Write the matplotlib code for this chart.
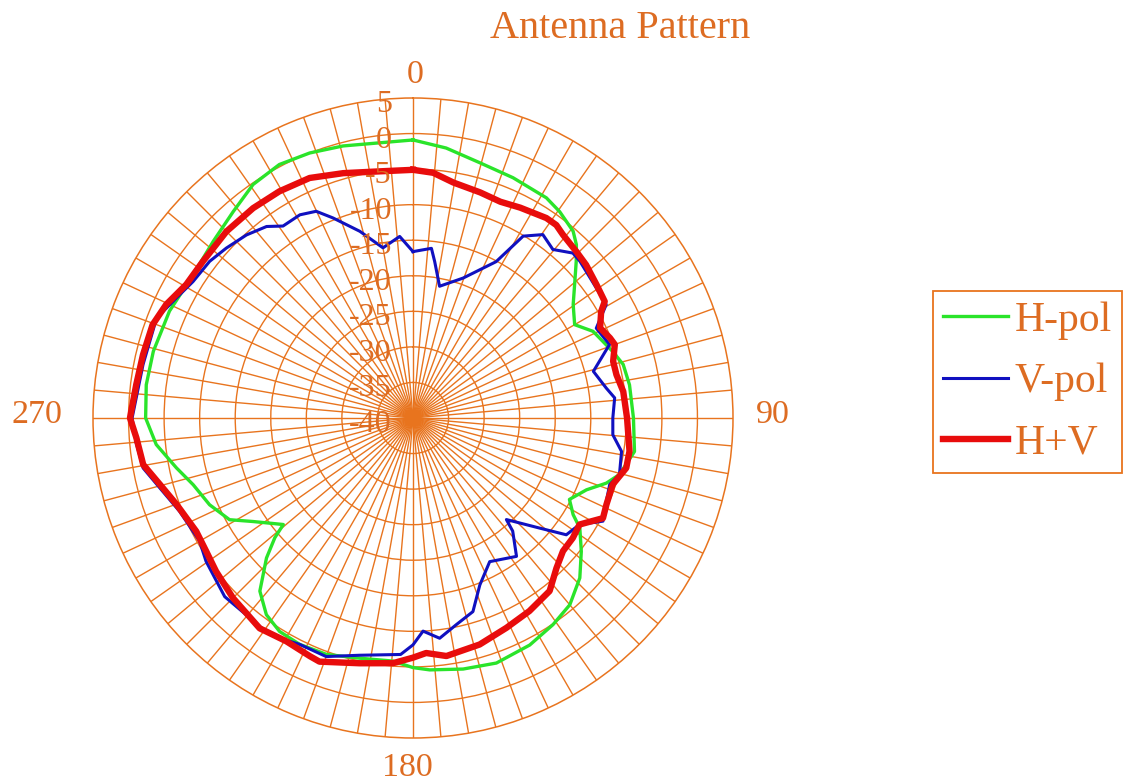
import numpy as np
import matplotlib
matplotlib.use("Agg")
import matplotlib.pyplot as plt

# ---- measured pattern data (azimuth in degrees, level in dB) ----
h_pol_deg = [0, 7, 14.7, 22.6, 31.2, 35.4, 40.6, 43.3, 46.2, 49.8, 54.7, 60, 64.3, 71.6,
             75.7, 81.3, 90, 98.6, 105.3, 108.6, 112.5, 117.5, 121.1, 123.4, 128.4, 133.8,
             140, 145.9, 152.8, 161.2, 168.7, 176.2, 180, 184.7, 192.5, 200.1, 206.6, 212,
             216.7, 221.5, 226.3, 229.1, 230.6, 237.1, 241, 246.9, 253.1, 258.1, 264.1, 270,
             277.1, 284.4, 293.7, 303.1, 311.5, 319, 325.6, 332.2, 338.7, 345.6, 352.4, 360]
h_pol_db = [-0.9, -1.75, -2.9, -3.4, -3.8, -4.4, -5.4, -6.5, -8.2, -10.2, -12.4, -13.75, -11.9,
            -10.4, -9.5, -9.2, -9.0, -8.5, -9.9, -11.3, -13.6, -15.2, -13.7, -11.9, -9.8, -7.5,
            -5.7, -4.9, -4.1, -3.6, -4.0, -4.5, -4.9, -5.7, -5.4, -4.6, -4.4, -4.6, -5.5, -7.5,
            -11.5, -14.3, -16.4, -13.2, -10.5, -8.9, -7.7, -6.0, -3.7, -2.4, -2.2, -2.3, -2.6,
            -3.1, -2.5, -1.5, -0.2, 0.3, 0.0, -0.5, -1.0, -0.9]

v_pol_deg = [0, 6.2, 7.9, 11.4, 19.7, 28, 31.2, 35.3, 39.7, 44.1, 46.8, 49.8, 54.7, 59.6,
             63.9, 69.5, 75.5, 81.2, 84.3, 90, 94.8, 99.1, 105.3, 108.7, 113.3, 118.5, 122.6,
             127.3, 131, 137.4, 138.6, 143.2, 151.9, 158.2, 162.8, 168.2, 173.1, 177.3, 180,
             183, 192.7, 200, 206.6, 211.2, 215.7, 226.5, 235.3, 240, 248.2, 254.6, 259.5, 265,
             270, 281.2, 291.3, 297.9, 301.8, 307.6, 312.3, 317.7, 322.6, 325.9, 330.9, 334.9,
             338.2, 344.1, 350, 355.8, 360]
v_pol_db = [-16.6, -16.0, -17.8, -21.1, -19.1, -15.1, -10.1, -8.4, -9.2, -7.7, -7.8, -8.1, -8.4,
            -8.5, -11.3, -10.5, -13.8, -12.5, -11.5, -11.9, -11.8, -10.3, -9.9, -10.8, -10.4,
            -9.6, -12.2, -12.9, -16.4, -20.6, -18.8, -15.7, -17.1, -14.7, -11.5, -10.3, -8.8,
            -10.0, -8.1, -6.7, -5.8, -4.3, -4.4, -3.8, -3.6, -3.5, -4.6, -5.35, -4.65, -3.05,
            -1.4, -0.9, -0.5, -1.3, -1.3, -2.9, -3.6, -3.9, -4.5, -5.2, -6.1, -7.4, -7.3, -7.9,
            -9.7, -12.7, -15.7, -14.4, -16.6]

hv_deg = [0, 4.7, 9.7, 16.6, 22, 27, 33.7, 36.6, 39.3, 44.4, 48.5, 54, 58.7, 60.5, 64.3, 67.9,
          70, 74.2, 78, 82.8, 90, 98.7, 103.2, 108.4, 114.1, 117.8, 122.6, 126.9, 131.6, 136.3,
          141.7, 148.9, 156, 163.6, 172, 176.8, 180, 184.7, 192.3, 201, 203.4, 209.6, 216.1,
          225, 232.1, 237.2, 242.4, 249.9, 255.3, 260.2, 265.9, 270, 276.9, 283.2, 289.7,
          294.7, 300.5, 306.7, 315, 322.7, 329.5, 336.7, 344.1, 352.3, 360]
hv_db = [-5.1, -5.4, -6.4, -6.9, -7.2, -6.8, -6.2, -6.2, -6.7, -7.2, -7.5, -8.1, -8.45, -9.6,
         -10.8, -10.1, -9.8, -10.75, -10.75, -10.2, -9.9, -9.2, -9.2, -10.4, -10.2, -9.8, -12.2,
         -11.9, -11.8, -10.8, -9.0, -8.3, -7.7, -6.8, -6.2, -6.9, -6.3, -5.4, -4.7, -3.3, -3.5,
         -3.9, -3.4, -4.2, -4.9, -5.4, -5.6, -4.6, -3.2, -1.5, -1.0, -0.2, -0.8, -1.0, -1.1,
         -1.8, -3.0, -3.15, -2.9, -2.9, -3.0, -3.25, -4.2, -5.0, -5.1]

series_names = ["H-pol", "V-pol", "H+V"]
r_ticks = [5, 0, -5, -10, -15, -20, -25, -30, -35, -40]
angle_labels = ["0", "90", "180", "270"]

# ---- styling ----
GRID = "#E8741E"
TEXT = "#DD6C22"
plt.rcParams["font.family"] = ["Liberation Serif", "DejaVu Serif"]

fig = plt.figure(figsize=(11.27, 7.83), dpi=100)
fig.patch.set_facecolor("white")

W, H = 1127.0, 783.0
ax = fig.add_axes([93 / W, 45 / H, 640 / W, 640 / H], projection="polar")
ax.set_theta_zero_location("N")
ax.set_theta_direction(-1)
ax.set_ylim(-40, 5)

ax.set_thetagrids(np.arange(0, 360, 5), labels=[""] * 72)
ax.set_rgrids(np.arange(-35, 5, 5), labels=[""] * 8)
ax.grid(True, color=GRID, linewidth=1.0)
ax.spines["polar"].set_color(GRID)
ax.spines["polar"].set_linewidth(1.1)
ax.tick_params(length=0)

l_h, = ax.plot(np.deg2rad(h_pol_deg), h_pol_db, color="#2AE42A", lw=2.4, label=series_names[0], zorder=3)
l_v, = ax.plot(np.deg2rad(v_pol_deg), v_pol_db, color="#1010C0", lw=2.2, label=series_names[1], zorder=4)
l_hv, = ax.plot(np.deg2rad(hv_deg), hv_db, color="#E80C0C", lw=4.6, label=series_names[2], zorder=5)

# radial level labels along the 0-degree spoke
for v in r_ticks:
    ax.annotate(str(v), xy=(0, v), xytext=(-21, -3), textcoords="offset pixels",
                ha="right", va="center_baseline", color=TEXT, fontsize=23, zorder=10,
                annotation_clip=False)

# azimuth labels outside the ring
offsets = {"0": (2, 15), "90": (40, -5), "180": (-6, -38), "270": (-56, -5)}
for lab in angle_labels:
    th = np.deg2rad(float(lab))
    ax.annotate(lab, xy=(th, 5), xytext=offsets[lab], textcoords="offset pixels",
                ha="center", va="baseline", color=TEXT, fontsize=24.5,
                annotation_clip=False)

fig.text(620 / W, 1 - 38 / H, "Antenna Pattern", ha="center", va="baseline",
         color=TEXT, fontsize=29)

leg = fig.legend(handles=[l_h, l_v, l_hv], loc="upper left",
                 bbox_to_anchor=(933 / W, 1 - 291 / H), fontsize=30,
                 handlelength=1.55, handletextpad=0.15, borderpad=0.25,
                 labelspacing=0.55, borderaxespad=0, fancybox=False, framealpha=1)
leg.get_frame().set_edgecolor(GRID)
leg.get_frame().set_linewidth(1.3)
for t in leg.get_texts():
    t.set_color(TEXT)

fig.savefig("out.png", dpi=100)
